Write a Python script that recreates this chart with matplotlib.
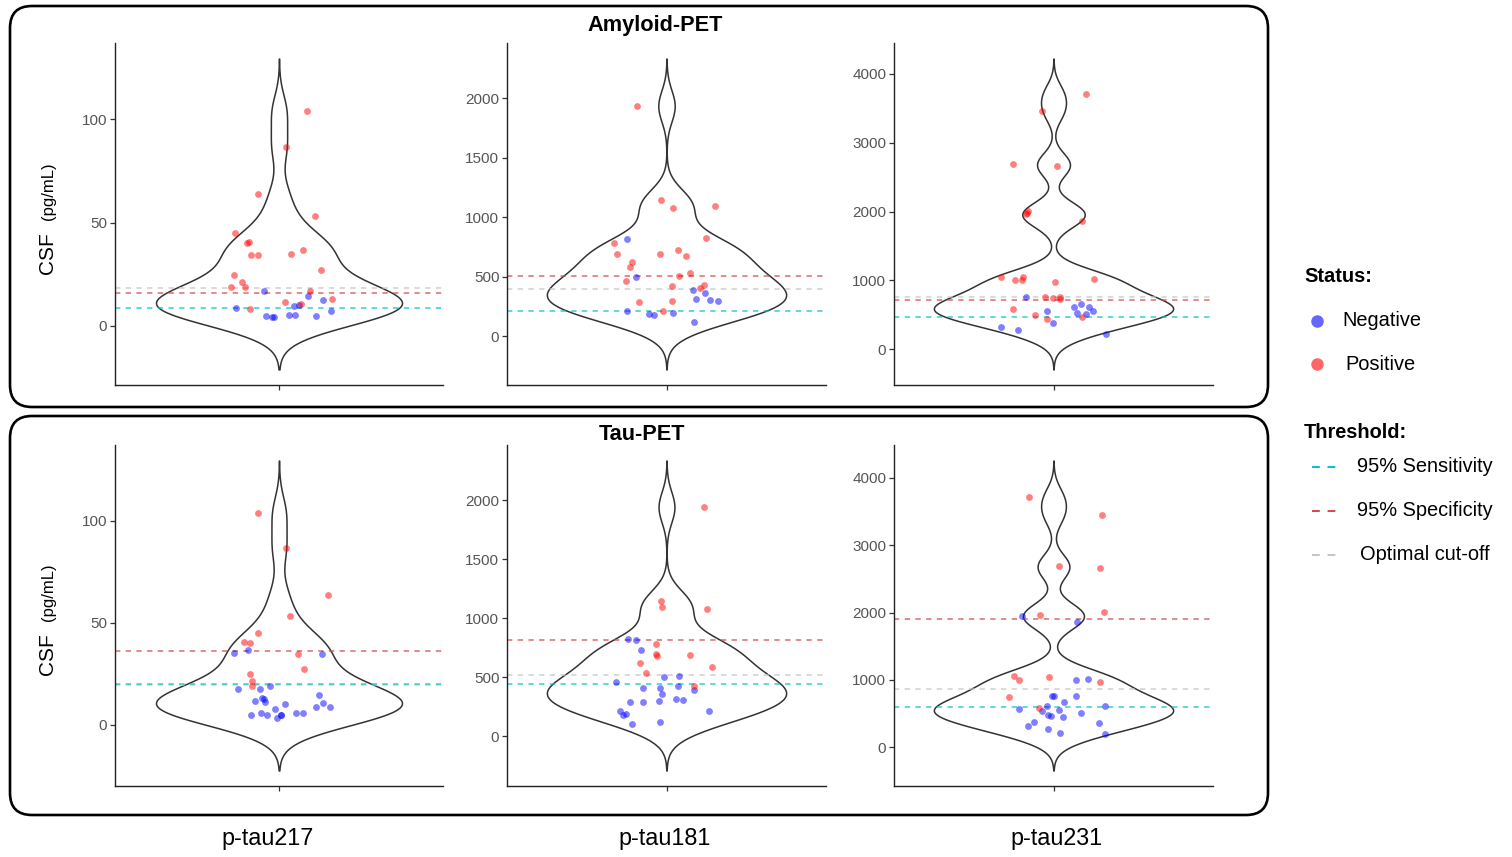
import numpy as np
import matplotlib
matplotlib.use("Agg")
import matplotlib.pyplot as plt
from matplotlib.patches import FancyBboxPatch
from matplotlib.lines import Line2D
from matplotlib.ticker import MultipleLocator
from matplotlib.transforms import IdentityTransform

plt.rcParams['font.family'] = ['Liberation Sans', 'DejaVu Sans']

biomarkers = ['p-tau217', 'p-tau181', 'p-tau231']
row_titles = ['Amyloid-PET', 'Tau-PET']
tick_steps = [50, 500, 1000]

# ---- Amyloid-PET row ----
amy217_pos = [104.0, 86.8, 63.7, 53.2, 45.0, 40.3, 40.5, 34.4, 34.4, 34.7, 36.8, 26.9, 24.8, 21.3,
              18.9, 18.9, 16.9, 13.1, 11.5, 10.6, 8.4]
amy217_pos_jit = [0.101, 0.024, -0.077, 0.133, -0.161, -0.117, -0.110, -0.101, -0.077, 0.043, 0.087,
                  0.154, -0.164, -0.134, -0.123, -0.177, 0.115, 0.193, 0.023, 0.081, -0.105]
amy217_neg = [17.1, 14.5, 12.4, 8.7, 7.3, 9.8, 10.3, 4.7, 4.5, 4.4, 5.2, 5.3, 4.7]
amy217_neg_jit = [-0.055, 0.105, 0.160, -0.158, 0.189, 0.055, 0.072, -0.049, -0.024, -0.018, 0.035,
                  0.057, 0.134]

amy181_pos = [1935, 1143, 1079, 1093, 823, 781, 689, 694, 725, 678, 622, 586, 533, 508, 463, 424,
              430, 407, 284, 296, 209]
amy181_pos_jit = [-0.110, -0.020, 0.024, 0.183, 0.148, -0.196, -0.187, -0.023, 0.044, 0.073, -0.128,
                  -0.137, 0.088, 0.048, -0.152, 0.020, 0.142, 0.127, -0.103, 0.019, -0.013]
amy181_neg = [817, 496, 390, 360, 312, 307, 293, 215, 184, 178, 198, 120]
amy181_neg_jit = [-0.149, -0.114, 0.100, 0.143, 0.110, 0.164, 0.192, -0.147, -0.065, -0.048, 0.023,
                  0.104]

amy231_pos = [3710, 3454, 2694, 2665, 2012, 1964, 1978, 1857, 1054, 1006, 1006, 1045, 977, 1021,
              764, 750, 764, 735, 585, 489, 440, 474]
amy231_pos_jit = [0.123, -0.045, -0.154, 0.014, -0.095, -0.103, -0.100, 0.108, -0.197, -0.144,
                  -0.119, -0.113, 0.006, 0.153, -0.033, -0.003, 0.023, 0.024, -0.153, -0.071,
                  -0.023, 0.109]
amy231_neg = [755, 561, 619, 663, 609, 532, 508, 547, 382, 324, 271, 218]
amy231_neg_jit = [-0.104, -0.025, 0.076, 0.105, 0.134, 0.088, 0.123, 0.149, -0.001, -0.198, -0.133,
                  0.197]

# ---- Tau-PET row ----
tau217_pos = [103.9, 86.7, 63.7, 53.3, 45.2, 40.8, 40.3, 34.6, 27.2, 25.0, 21.6, 19.0]
tau217_pos_jit = [-0.076, 0.024, 0.181, 0.042, -0.076, -0.129, -0.105, 0.070, 0.093, -0.105,
                  -0.099, -0.100]
tau217_neg = [35.0, 36.9, 34.5, 17.6, 17.4, 19.0, 14.8, 11.7, 13.3, 12.4, 10.9, 10.1, 10.6, 8.8,
              8.9, 7.6, 5.0, 5.7, 4.9, 3.3, 4.7, 4.6, 5.7, 5.7]
tau217_neg_jit = [-0.165, -0.114, 0.159, -0.149, -0.068, -0.032, 0.147, -0.088, -0.062, -0.056,
                  -0.050, 0.021, 0.161, 0.137, 0.186, -0.015, -0.103, -0.066, -0.045, -0.009,
                  0.006, 0.009, 0.063, 0.088]

tau181_pos = [1941, 1144, 1094, 1080, 783, 696, 679, 690, 620, 586, 536, 429]
tau181_pos_jit = [0.142, -0.021, -0.018, 0.153, -0.039, -0.039, -0.035, 0.087, -0.100, 0.171,
                  -0.078, 0.105]
tau181_neg = [822, 819, 726, 463, 499, 508, 426, 407, 404, 390, 359, 311, 306, 289, 286, 295, 210,
              182, 191, 104, 118, 210]
tau181_neg_jit = [-0.143, -0.113, -0.095, -0.191, -0.008, 0.046, 0.044, -0.089, -0.023, 0.102,
                  -0.018, 0.034, 0.063, -0.137, -0.088, -0.030, -0.174, -0.164, -0.154, -0.128,
                  -0.023, 0.159]

tau231_pos = [3710, 3450, 2693, 2668, 2010, 1966, 1052, 1002, 1047, 973, 747, 580]
tau231_pos_jit = [-0.092, 0.184, 0.019, 0.176, 0.189, -0.049, -0.147, -0.130, -0.016, 0.174,
                  -0.166, -0.053]
tau231_neg = [1946, 1857, 1002, 1017, 762, 757, 757, 663, 614, 609, 560, 545, 531, 506, 482, 467,
              442, 373, 319, 359, 265, 206, 201]
tau231_neg_jit = [-0.120, 0.087, 0.084, 0.128, 0.084, -0.005, 0.000, 0.041, -0.025, 0.193, -0.129,
                  0.019, -0.043, 0.103, -0.020, -0.009, 0.035, -0.073, -0.097, 0.173, -0.021,
                  0.026, 0.193]

# thresholds: (95% sensitivity, 95% specificity, optimal cut-off)
amy_thresholds = [(8.5, 15.8, 18.1), (212, 505, 399), (460, 716, 759)]
tau_thresholds = [(20.2, 36.4, 19.5), (443, 819, 519), (595, 1897, 865)]

panels = [
    [(amy217_pos, amy217_pos_jit, amy217_neg, amy217_neg_jit),
     (amy181_pos, amy181_pos_jit, amy181_neg, amy181_neg_jit),
     (amy231_pos, amy231_pos_jit, amy231_neg, amy231_neg_jit)],
    [(tau217_pos, tau217_pos_jit, tau217_neg, tau217_neg_jit),
     (tau181_pos, tau181_pos_jit, tau181_neg, tau181_neg_jit),
     (tau231_pos, tau231_pos_jit, tau231_neg, tau231_neg_jit)],
]
thresholds = [amy_thresholds, tau_thresholds]

SENS_C, SPEC_C, OPT_C = '#00C2CC', '#D04848', '#C4C4C4'
NEG_C, POS_C = '#0000FF', '#FF0000'

W, H = 1512, 857


def violin_outline(values):
    # ggplot-like violin: gaussian kde, nrd0 bandwidth, extended 3 bw past the data
    v = np.asarray(values, float)
    q75, q25 = np.percentile(v, [75, 25])
    bw = 0.9 * min(np.std(v, ddof=1), (q75 - q25) / 1.34) * len(v) ** -0.2
    y = np.linspace(v.min() - 3 * bw, v.max() + 3 * bw, 512)
    dens = np.exp(-0.5 * ((y[:, None] - v[None, :]) / bw) ** 2).sum(axis=1)
    return y, 0.45 * dens / dens.max()


fig = plt.figure(figsize=(15.12, 8.57), dpi=100)

# rounded boxes around each row (pixel coordinates)
for (top, bot) in [(6, 407), (416, 815)]:
    box = FancyBboxPatch((10, H - bot), 1258, bot - top,
                         boxstyle="round,pad=0,rounding_size=22",
                         transform=IdentityTransform(), facecolor='none',
                         edgecolor='black', linewidth=1.9)
    fig.patches.append(box)

col_px = [(115, 443), (507, 826), (894, 1213)]
row_px = [(43, 385), (445, 786)]

for r, (ytop, ybot) in enumerate(row_px):
    for c, (x0, x1) in enumerate(col_px):
        ax = fig.add_axes([x0 / W, 1 - ybot / H, (x1 - x0) / W, (ybot - ytop) / H])
        pos, pos_jit, neg, neg_jit = panels[r][c]
        allv = pos + neg
        y, w = violin_outline(allv)
        ax.fill_betweenx(y, 1 - w, 1 + w, facecolor='white', edgecolor='#333333',
                         linewidth=1.1, zorder=1)
        sens, spec, opt = thresholds[r][c]
        for val, col in [(opt, OPT_C), (spec, SPEC_C), (sens, SENS_C)]:
            ax.axhline(val, color=col, linestyle=(0, (3.5, 3.5)), linewidth=1.1,
                       alpha=0.8, zorder=2)
        ax.scatter(1 + np.array(neg_jit), neg, s=24, color=NEG_C, alpha=0.5,
                   linewidths=0, zorder=3)
        ax.scatter(1 + np.array(pos_jit), pos, s=24, color=POS_C, alpha=0.5,
                   linewidths=0, zorder=3)
        span = y[-1] - y[0]
        ax.set_ylim(y[0] - 0.05 * span, y[-1] + 0.05 * span)
        ax.yaxis.set_major_locator(MultipleLocator(tick_steps[c]))
        ax.set_xlim(0.4, 1.6)
        ax.set_xticks([1])
        ax.set_xticklabels([''])
        for s in ['top', 'right']:
            ax.spines[s].set_visible(False)
        for s in ['left', 'bottom']:
            ax.spines[s].set_linewidth(1.0)
            ax.spines[s].set_color('#222222')
        ax.tick_params(axis='both', length=3.5, width=0.9, color='#333333',
                       labelcolor='#555555', labelsize=11, pad=2)
        ax.patch.set_alpha(0)
        if c == 0:
            ax.text(-0.19, 0.386, 'CSF', transform=ax.transAxes, rotation=90,
                    rotation_mode='anchor', ha='center', va='baseline', fontsize=15)
            ax.text(-0.19, 0.567, '(pg/mL)', transform=ax.transAxes, rotation=90,
                    rotation_mode='anchor', ha='center', va='baseline', fontsize=12)

# row titles
fig.text(655 / W, 1 - 26 / H, row_titles[0], ha='center', va='center',
         fontsize=15.7, fontweight='bold')
fig.text(642 / W, 1 - 435 / H, row_titles[1], ha='center', va='center',
         fontsize=15.7, fontweight='bold')

# biomarker labels along the bottom
for name, xc in zip(biomarkers, [268, 665, 1057]):
    fig.text(xc / W, 1 - 838 / H, name, ha='center', va='center', fontsize=16.8)

# legend
fig.text(1304 / W, 1 - 277 / H, 'Status:', ha='left', va='center', fontsize=14.4,
         fontweight='bold')
for label, col, yy, tx in [('Negative', NEG_C, 321, 1342), ('Positive', POS_C, 364, 1345)]:
    fig.add_artist(Line2D([1317 / W], [1 - yy / H], marker='o', markersize=9,
                          color=col, alpha=0.6, linestyle='none',
                          markeredgewidth=0))
    fig.text(tx / W, 1 - yy / H, label, ha='left', va='center', fontsize=14.4)

fig.text(1304 / W, 1 - 433 / H, 'Threshold:', ha='left', va='center', fontsize=14.4,
         fontweight='bold')
for label, col, yy, tx in [('95% Sensitivity', SENS_C, 467, 1357),
                           ('95% Specificity', SPEC_C, 511, 1357),
                           ('Optimal cut-off', OPT_C, 555, 1360)]:
    fig.add_artist(Line2D([1312 / W, 1338 / W], [1 - yy / H, 1 - yy / H], color=col,
                          linestyle=(0, (4, 4)), linewidth=1.4))
    fig.text(tx / W, 1 - yy / H, label, ha='left', va='center', fontsize=14.4)

fig.savefig('out.png', dpi=100, facecolor='white')
